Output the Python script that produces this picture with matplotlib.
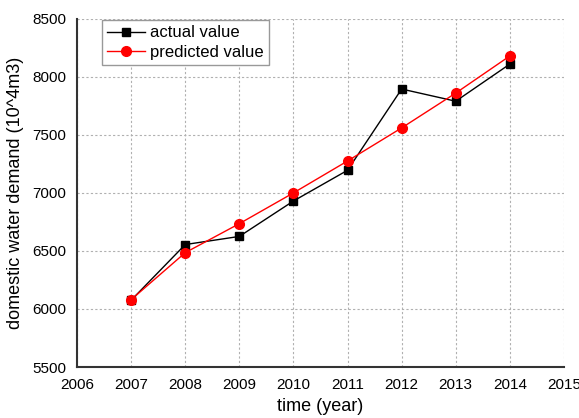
import matplotlib
matplotlib.use('Agg')
import matplotlib.pyplot as plt

years = [2007, 2008, 2009, 2010, 2011, 2012, 2013, 2014]
actual = [6075, 6555, 6625, 6930, 7195, 7895, 7790, 8110]
predicted = [6080, 6485, 6735, 7000, 7275, 7560, 7860, 8180]

plt.rcParams.update({'font.family': 'Liberation Sans', 'font.size': 11})

fig = plt.figure(figsize=(5.79, 4.18), dpi=100)
ax = fig.add_axes([0.133, 0.122, 0.841, 0.833])
ax.plot(years, actual, '-', color='black', lw=1, marker='s', ms=6, label='actual value', zorder=3)
ax.plot(years, predicted, '-', color='red', lw=1, marker='o', ms=7, label='predicted value', zorder=4)

ax.set_xlim(2006, 2015); ax.set_ylim(5500, 8500)
ax.set_xticks(range(2006, 2016)); ax.set_yticks(range(5500, 8501, 500))
ax.grid(True, color='#b0b0b0', ls=(0, (2, 2)), lw=0.8)
ax.tick_params(length=0, pad=8)
for s in ('top', 'right'):
    ax.spines[s].set_visible(False)
for s in ('left', 'bottom'):
    ax.spines[s].set_linewidth(1.5); ax.spines[s].set_color('#333333')
ax.set_xlabel('time (year)', fontsize=13, labelpad=4)
ax.set_ylabel('domestic water demand (10^4m3)', fontsize=13, labelpad=6)
leg = ax.legend(loc='upper left', bbox_to_anchor=(0.047, 1.0), fontsize=12, fancybox=False,
                framealpha=1, edgecolor='#999999', handlelength=2.3, borderpad=0.3,
                labelspacing=0.25, handletextpad=0.3, borderaxespad=0.1)
leg.get_frame().set_linewidth(1)
fig.savefig('out.png', dpi=100)
